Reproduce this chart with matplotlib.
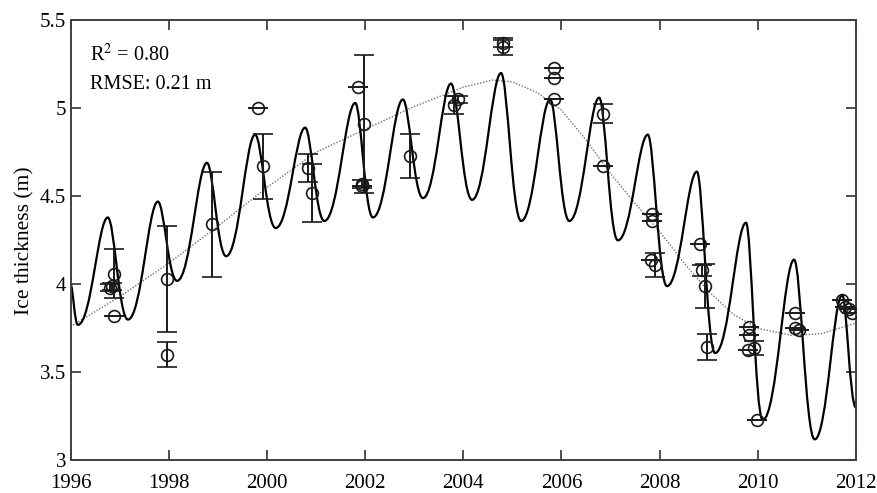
import matplotlib
matplotlib.use("Agg")
import matplotlib.pyplot as plt
from matplotlib.path import Path
from matplotlib.patches import PathPatch

plt.rcParams['font.family'] = ['Liberation Serif', 'DejaVu Serif']
plt.rcParams['mathtext.fontset'] = 'stix'

# modelled ice thickness: seasonal extremes
model_year = [1996.0, 1996.15, 1996.76, 1997.17, 1997.78, 1998.17, 1998.78, 1999.17,
              1999.76, 2000.18, 2000.78, 2001.17, 2001.80, 2002.16, 2002.77, 2003.18,
              2003.75, 2004.18, 2004.77, 2005.18, 2005.77, 2006.16, 2006.77, 2007.15,
              2007.76, 2008.15, 2008.76, 2009.13, 2009.76, 2010.10, 2010.74, 2011.16,
              2011.72, 2012.0]
model_val = [4.00, 3.77, 4.38, 3.80, 4.47, 4.02, 4.69, 4.16,
             4.85, 4.32, 4.89, 4.36, 5.03, 4.38, 5.05, 4.49,
             5.14, 4.48, 5.20, 4.36, 5.05, 4.36, 5.06, 4.25,
             4.85, 3.99, 4.64, 3.61, 4.35, 3.23, 4.14, 3.12,
             3.94, 3.30]

# smooth trend (dotted grey)
trend_year = [1996.0, 1997.0, 1998.0, 1999.0, 2000.0, 2001.0, 2002.0, 2003.0,
              2004.0, 2004.6, 2005.0, 2005.5, 2006.0, 2006.5, 2007.0, 2007.5, 2008.0,
              2008.5, 2009.0, 2009.5, 2010.0, 2010.7, 2011.3, 2012.0]
trend_val = [3.76, 3.93, 4.12, 4.33, 4.55, 4.75, 4.88, 5.01,
             5.12, 5.16, 5.15, 5.09, 4.99, 4.82, 4.63, 4.46, 4.30,
             4.12, 3.96, 3.83, 3.75, 3.71, 3.72, 3.78]

# observations with uncertainties
obs_year = [1996.80, 1996.85, 1996.89, 1996.89,
            1997.96, 1997.96,
            1998.88,
            1999.81, 1999.92,
            2000.84, 2000.92,
            2001.85, 2001.97, 2001.93, 2001.93,
            2002.91,
            2003.82, 2003.90,
            2004.80, 2004.80,
            2005.84, 2005.84, 2005.84,
            2006.85, 2006.85,
            2007.84, 2007.84, 2007.82, 2007.90,
            2008.82, 2008.86, 2008.92, 2008.96,
            2009.82, 2009.82, 2009.80, 2009.92,
            2009.99,
            2010.76, 2010.76, 2010.84,
            2011.72, 2011.78, 2011.85, 2011.92]
obs_val = [3.98, 3.99, 4.06, 3.82,
           4.03, 3.60,
           4.34,
           5.00, 4.67,
           4.66, 4.52,
           5.12, 4.91, 4.57, 4.56,
           4.73,
           5.02, 5.05,
           5.37, 5.35,
           5.23, 5.17, 5.05,
           4.97, 4.67,
           4.40, 4.36, 4.14, 4.11,
           4.23, 4.08, 3.99, 3.645,
           3.76, 3.71, 3.625, 3.64,
           3.23,
           3.84, 3.75, 3.74,
           3.91, 3.87, 3.86, 3.84]
obs_err = [0.02, 0.02, 0.14, 0.0,
           0.30, 0.07,
           0.30,
           0.0, 0.185,
           0.08, 0.165,
           0.0, 0.39, 0.02, 0.0,
           0.125,
           0.05, 0.02,
           0.02, 0.05,
           0.0, 0.0, 0.0,
           0.055, 0.0,
           0.0, 0.0, 0.0, 0.07,
           0.0, 0.03, 0.125, 0.075,
           0.0, 0.0, 0.0, 0.04,
           0.0,
           0.0, 0.0, 0.0,
           0.0, 0.0, 0.0, 0.0]

x_ticks = [1996, 1998, 2000, 2002, 2004, 2006, 2008, 2010, 2012]
y_ticks = [3, 3.5, 4, 4.5, 5, 5.5]
y_tick_labels = ['3', '3.5', '4', '4.5', '5', '5.5']


def seasonal_path(xs, ys):
    # cubic segments with flat tangents at each extreme (narrow peaks, round troughs)
    verts = [(xs[0], ys[0])]
    codes = [Path.MOVETO]
    for i in range(len(xs) - 1):
        dt = xs[i + 1] - xs[i]
        h0 = 0.32 if ys[i] > ys[i + 1] else 0.45
        h1 = 0.45 if ys[i] > ys[i + 1] else 0.32
        verts += [(xs[i] + h0 * dt, ys[i]), (xs[i + 1] - h1 * dt, ys[i + 1]), (xs[i + 1], ys[i + 1])]
        codes += [Path.CURVE4] * 3
    return Path(verts, codes)


fig = plt.figure(figsize=(8.77, 4.93), dpi=100)
ax = fig.add_axes([0.0804, 0.066, 0.8956, 0.893])

ax.add_patch(PathPatch(seasonal_path(model_year, model_val), fill=False,
                       edgecolor='black', lw=1.6, zorder=2))
ax.plot(trend_year, trend_val, linestyle=(0, (1, 1.2)), color='0.45', lw=1.0, zorder=1)
ax.errorbar(obs_year, obs_val, yerr=obs_err, fmt='o', mfc='none', mec='0.1',
            ms=8.5, mew=1.2, ecolor='0.1', elinewidth=1.4, capsize=7, capthick=1.4,
            zorder=3)

ax.set_xlim(1996, 2012)
ax.set_ylim(3, 5.5)
ax.set_xticks(x_ticks)
ax.set_xticklabels([str(t) for t in x_ticks])
ax.set_yticks(y_ticks)
ax.set_yticklabels(y_tick_labels)
ax.tick_params(direction='in', length=7, width=1.2, labelsize=15, top=True, right=True,
               color='0.2')
ax.tick_params(axis='x', pad=10)
ax.tick_params(axis='y', pad=3)
for s in ax.spines.values():
    s.set_linewidth(1.4)
    s.set_color('0.25')
ax.set_ylabel('Ice thickness (m)', fontsize=15.5, labelpad=4)

ax.text(0.025, 0.92, r'R$^{2}$ = 0.80', transform=ax.transAxes, fontsize=14.5, va='center')
ax.text(0.025, 0.855, 'RMSE: 0.21 m', transform=ax.transAxes, fontsize=14.5, va='center')

fig.savefig('out.png', dpi=100)
